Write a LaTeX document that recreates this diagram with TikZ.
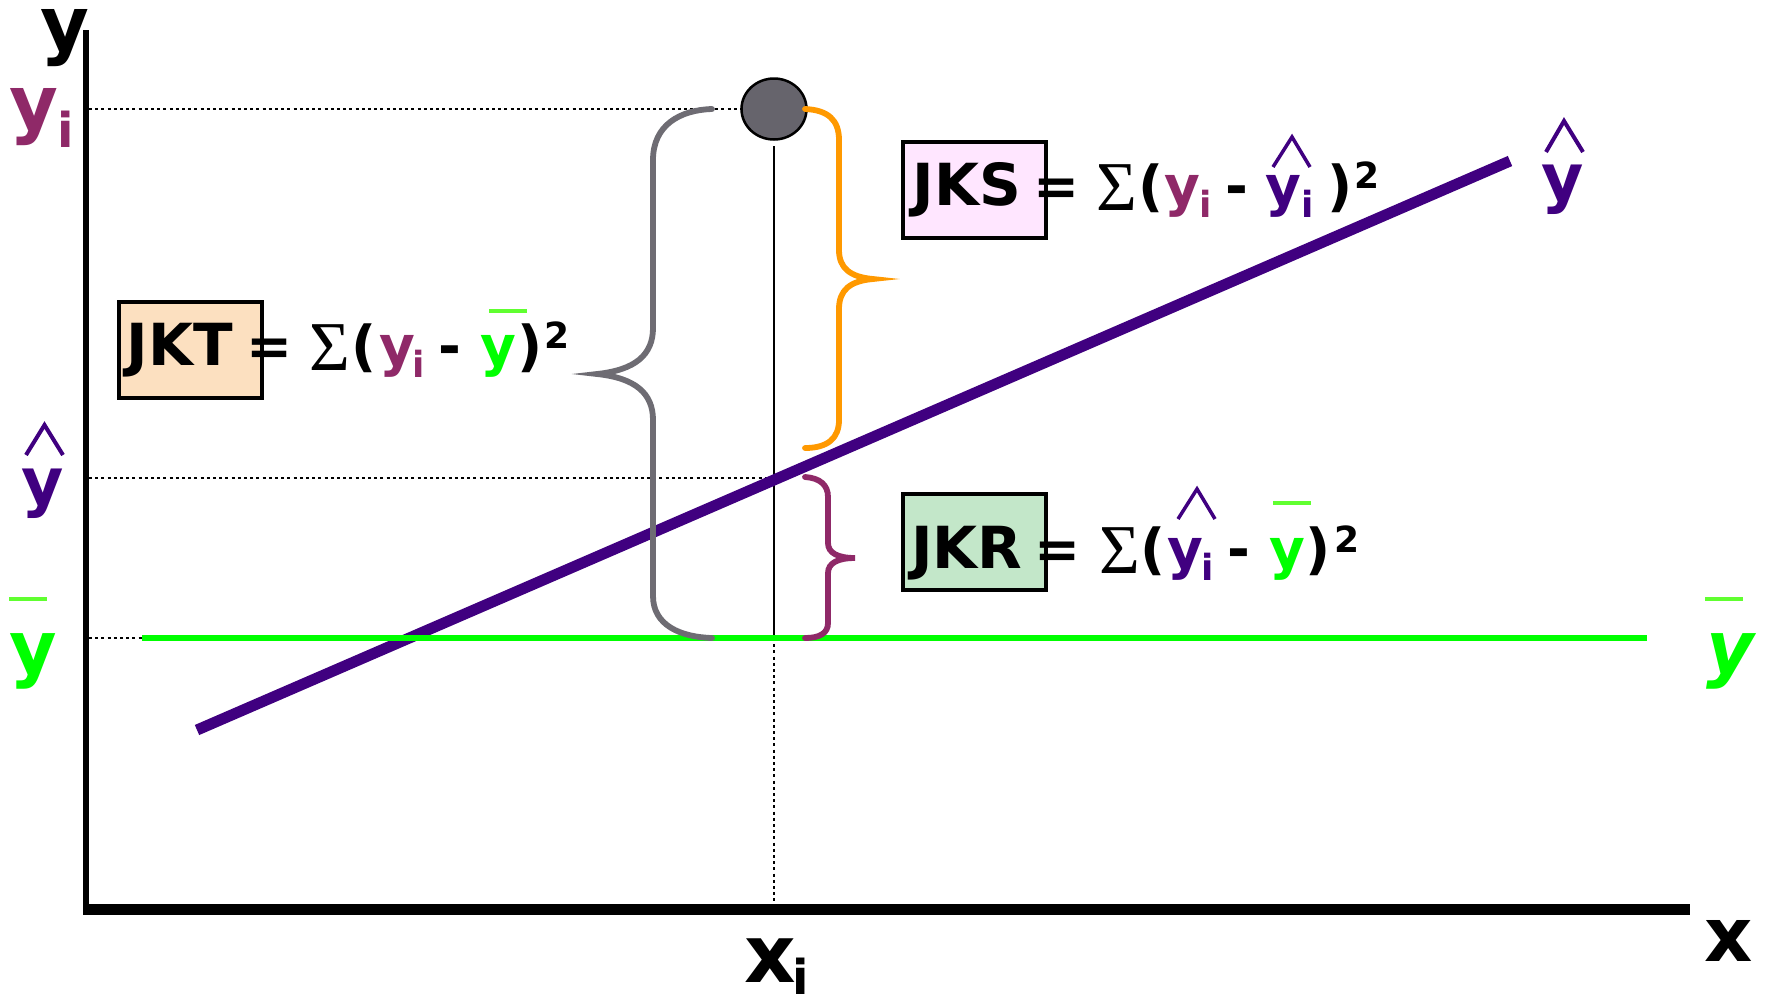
\documentclass[tikz,border=0pt]{standalone}
\usepackage{fontspec}
\setmainfont{DejaVu Sans}
\newfontfamily\sigfont{Liberation Serif}
\usetikzlibrary{shapes.geometric}
\definecolor{ymag}{RGB}{143,41,104}
\definecolor{ypur}{RGB}{64,0,128}
\definecolor{ygrn}{RGB}{0,255,0}
\definecolor{barg}{RGB}{96,255,48}
\definecolor{orng}{RGB}{255,153,0}
\definecolor{bgray}{RGB}{110,108,115}
\definecolor{cgray}{RGB}{102,100,108}
\definecolor{jksfill}{RGB}{255,230,255}
\definecolor{jkrfill}{RGB}{195,231,201}
\definecolor{jktfill}{RGB}{252,224,192}
\begin{document}
\begin{tikzpicture}[x=1pt,y=-1pt,
  txt/.style={inner sep=0pt, anchor=base, font=\bfseries\fontsize{55}{60}\selectfont},
  boxt/.style={inner sep=0pt, anchor=base, font=\bfseries\fontsize{58}{62}\selectfont},
  subt/.style={inner sep=0pt, anchor=base, font=\bfseries\fontsize{36}{40}\selectfont},
  sigt/.style={inner sep=0pt, anchor=base, font=\sigfont\fontsize{70}{80}\selectfont},
  bigt/.style={inner sep=0pt, anchor=base, font=\bfseries\fontsize{75}{80}\selectfont},
  bigsub/.style={inner sep=0pt, anchor=base, font=\bfseries\fontsize{48}{52}\selectfont},
  hatline/.style={line width=3.5pt, ypur, line join=miter},
  barline/.style={line width=4pt, barg},
  brace/.style={line width=5.8pt, line cap=round},
  dots/.style={line width=2.8pt, dash pattern=on 3pt off 3.2pt},
  boxn/.style={draw, line width=4pt, inner sep=0pt, minimum width=143pt, minimum height=96pt}]
\useasboundingbox (0,0) rectangle (1766,997);
\fill[white] (0,0) rectangle (1766,997);

% axes
\coordinate (ytop) at (86,30);
\coordinate (ybot) at (86,914);
\coordinate (xl) at (83,909);
\coordinate (xr) at (1690,909);
\draw[line width=5.5pt] (ytop) -- (ybot);
\draw[line width=11pt] (xl) -- (xr);

% data point
\node[ellipse, draw, line width=2.5pt, fill=cgray, minimum width=65pt, minimum height=61pt, inner sep=0pt] (pt) at (774,109) {};

% guide lines
\coordinate (yiL) at (89,109);
\coordinate (yhL) at (89,478);
\coordinate (yhM) at (774,478);
\coordinate (ybL) at (89,638);
\coordinate (gL) at (142,638);
\coordinate (gR) at (1647,638);
\coordinate (vTop) at (774,146);
\coordinate (vMid) at (774,638);
\coordinate (vBot) at (774,904);
\draw[dots] (yiL) -- (pt.west);
\draw[dots] (yhL) -- (yhM);
\draw[dots] (ybL) -- (gL);
\draw[dots] (vMid) -- (vBot);
\draw[line width=2.4pt] (vTop) -- (vMid);

% regression line
\coordinate (rA) at (197,730);
\coordinate (rB) at (1510,161);
\draw[line width=11pt, ypur] (rA) -- (rB);
\draw[line width=6pt, ygrn] (gL) -- (gR);

% braces
\draw[brace, bgray] (712,109) .. controls (680,110) and (653,125) .. (653,160)
  -- (653,328) .. controls (653,355) and (635,370) .. (597,374)
  .. controls (635,378) and (653,393) .. (653,420)
  -- (653,596) .. controls (653,625) and (680,637) .. (712,638);
\draw[brace, orng] (805,109) .. controls (828,110) and (839,120) .. (839,140)
  -- (839,250) .. controls (839,268) and (850,277) .. (873,279)
  .. controls (850,281) and (839,290) .. (839,309)
  -- (839,420) .. controls (839,438) and (828,448) .. (805,448);
\draw[brace, ymag] (805,477) .. controls (820,478) and (828,485) .. (828,497)
  -- (828,543) .. controls (828,553) and (838,558) .. (855,558)
  .. controls (838,558) and (828,563) .. (828,573)
  -- (828,623) .. controls (828,633) and (820,638) .. (805,638);

% boxes
\node[boxn, fill=jksfill] (jksbox) at (974,190) {};
\node[boxn, fill=jkrfill] (jkrbox) at (974,542) {};
\node[boxn, fill=jktfill] (jktbox) at (190,349.5) {};
\node[boxt] (jks) at (967,205) {JKS};
\node[boxt] (jkr) at (967,568) {JKR};
\node[boxt] (jkt) at (180,365) {JKT};

% JKS formula
\node[txt] (eq1) at (1057,205) {=};
\node[sigt] (sig1) at (1117,210) {Σ};
\node[txt] (lp1) at (1151,205) {(};
\node[txt, ymag] (y1) at (1182,205) {y};
\node[subt, ymag] (i1) at (1206,217) {i};
\node[txt] (m1) at (1237,205) {-};
\node[txt, ypur] (yh1) at (1283,205) {y};
\node[subt, ypur] (ih1) at (1308,217) {i};
\draw[hatline] (1273,167) -- (1292,137) -- (1310,167);
\node[txt] (rp1) at (1340,205) {)};
\node[subt] (sq1) at (1367,188) {2};

% JKR formula
\node[txt] (eq2) at (1058,568) {=};
\node[sigt] (sig2) at (1120,573) {Σ};
\node[txt] (lp2) at (1153,568) {(};
\node[txt, ypur] (y2) at (1185,568) {y};
\draw[hatline] (1178,519) -- (1197,489) -- (1215,519);
\node[subt, ypur] (i2) at (1208,580) {i};
\node[txt] (m2) at (1239,568) {-};
\node[txt, ygrn] (yb2) at (1287,568) {y};
\draw[barline] (1273,503) -- (1311,503);
\node[txt] (rp2) at (1318,568) {)};
\node[subt] (sq2) at (1347,552) {2};

% JKT formula
\node[txt] (eq3) at (270,365) {=};
\node[sigt] (sig3) at (330,370) {Σ};
\node[txt] (lp3) at (364,365) {(};
\node[txt, ymag] (y3) at (397,365) {y};
\node[subt, ymag] (i3) at (419,377) {i};
\node[txt] (m3) at (450,365) {-};
\node[txt, ygrn] (yb3) at (498,365) {y};
\draw[barline] (489,311) -- (527,311);
\node[txt] (rp3) at (530,365) {)};
\node[subt] (sq3) at (557,348) {2};

% axis labels
\node[bigt] (ylab) at (65,50) {y};
\node[bigt, ymag] (yiy) at (34,129) {y};
\node[bigsub, ymag] (yii) at (66,147) {i};
\node[inner sep=0pt, anchor=base, font=\bfseries\fontsize{65}{70}\selectfont, ypur] (yhl) at (43,504) {y};
\draw[hatline, line width=4pt] (26,455) -- (44.5,425) -- (63,455);
\node[inner sep=0pt, anchor=base, font=\bfseries\fontsize{73}{78}\selectfont, ygrn] (ybl) at (33,673) {y};
\draw[barline] (9,599) -- (47,599);
\node[inner sep=0pt, anchor=base, font=\bfseries\fontsize{65}{70}\selectfont, ypur] (yhr) at (1563,200) {y};
\draw[hatline, line width=4pt] (1546,152) -- (1564,121) -- (1583,152);
\node[inner sep=0pt, anchor=base, font=\bfseries\itshape\fontsize{73}{78}\selectfont, ygrn] (ybr) at (1730,673) {y};
\draw[barline] (1705,599) -- (1743,599);
\node[bigt] (xlab) at (1729,961) {x};
\node[inner sep=0pt, anchor=base, font=\bfseries\fontsize{80}{85}\selectfont] (xix) at (770,982) {x};
\node[bigsub] (xii) at (801,994) {i};
\end{tikzpicture}
\end{document}
